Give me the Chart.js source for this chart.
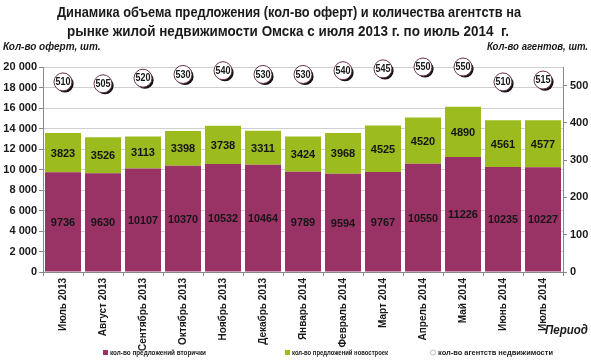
<!DOCTYPE html>
<html>
<head>
<meta charset="utf-8">
<script src="https://cdn.jsdelivr.net/npm/chart.js@4.4.1/dist/chart.umd.min.js"></script>
<style>
html,body{margin:0;padding:0;background:#fff;}
#wrap{width:591px;height:360px;position:relative;}
</style>
</head>
<body>
<div id="wrap"><canvas id="c" width="591" height="360"></canvas></div>
<script>
const categories = ['Июль 2013','Август 2013','Сентябрь 2013','Октябрь 2013','Ноябрь 2013','Декабрь 2013','Январь 2014','Февраль 2014','Март 2014','Апрель 2014','Май 2014','Июнь 2014','Июль 2014'];
const secondary = [9736,9630,10107,10370,10532,10464,9789,9594,9767,10550,11226,10235,10227];
const newBuild = [3823,3526,3113,3398,3738,3311,3424,3968,4525,4520,4890,4561,4577];
const agencies = [510,505,520,530,540,530,530,540,545,550,550,510,515];
const leftTicks = [0,2000,4000,6000,8000,10000,12000,14000,16000,18000,20000];
const rightTicks = [0,100,200,300,400,500];
const seriesNames = ['кол-во предложений вторички','кол-во предложений новостроек','кол-во агентств недвижимости'];
const titleLines = ['Динамика объема предложения (кол-во оферт) и количества агентств на','рынке жилой недвижимости Омска с июля 2013 г. по июль 2014  г.'];
const leftTitle = 'Кол-во оферт, шт.';
const rightTitle = 'Кол-во агентов, шт.';
const xTitle = 'Период';

const FONT = '"Liberation Sans", Arial, sans-serif';
const C_SEC = '#993366';
const C_NEW = '#9bbb1f';

function fmt(v){ return String(v).replace(/\B(?=(\d{3})+(?!\d))/g,' '); }

const shadowPlugin = {
  id:'shadow',
  beforeDatasetDraw(chart,args){
    if(args.index===2){
      const ctx=chart.ctx; ctx.save();
      ctx.fillStyle='#111';
      args.meta.data.forEach(el=>{
        ctx.beginPath(); ctx.arc(el.x+2,el.y+2,8.6,0,Math.PI*2); ctx.fill();
      });
      ctx.restore();
    }
  }
};

const labelsPlugin = {
  id:'labels',
  afterDatasetsDraw(chart){
    const ctx=chart.ctx;
    ctx.save();
    ctx.textAlign='center'; ctx.textBaseline='middle';
    ctx.fillStyle='#151515';
    ctx.font='bold 11px '+FONT;
    [0,1].forEach(di=>{
      const meta=chart.getDatasetMeta(di);
      meta.data.forEach((el,i)=>{
        const v=chart.data.datasets[di].data[i];
        const yc=(el.y+el.base)/2;
        ctx.fillText(String(v), el.x, yc+1, 30);
      });
    });
    ctx.font='bold 10px '+FONT;
    const m2=chart.getDatasetMeta(2);
    m2.data.forEach((el,i)=>{
      ctx.fillText(String(agencies[i]), el.x, el.y+0.5, 15);
    });
    ctx.restore();
  },
  afterDraw(chart){
    const ctx=chart.ctx;
    ctx.save();
    ctx.fillStyle='#1a1a1a';
    ctx.textBaseline='middle';
    ctx.textAlign='center';
    ctx.font='bold 15px '+FONT;
    ctx.fillText(titleLines[0], 289, 13, 464);
    ctx.fillText(titleLines[1], 288, 32, 442);
    ctx.font='italic bold 10px '+FONT;
    ctx.textAlign='left';
    ctx.fillText(leftTitle, 3, 47, 109);
    ctx.textAlign='right';
    ctx.fillText(rightTitle, 588, 47, 101);
    ctx.font='italic bold 12px '+FONT;
    ctx.fillText(xTitle, 588, 331, 43);
    // legend
    ctx.font='bold 8px '+FONT;
    ctx.textAlign='left';
    const ly=353;
    ctx.fillStyle=C_SEC; ctx.fillRect(103,ly-3,5,5);
    ctx.fillStyle='#1a1a1a'; ctx.fillText(seriesNames[0],110,ly,96);
    ctx.fillStyle=C_NEW; ctx.fillRect(285,ly-3,5,5);
    ctx.fillStyle='#1a1a1a'; ctx.fillText(seriesNames[1],292,ly,96);
    ctx.beginPath(); ctx.arc(433,ly-0.5,2.5,0,Math.PI*2);
    ctx.fillStyle='#fff'; ctx.fill(); ctx.strokeStyle='#c9a0b5'; ctx.lineWidth=0.8; ctx.stroke();
    ctx.fillStyle='#1a1a1a'; ctx.fillText(seriesNames[2],438,ly,115);
    ctx.restore();
  }
};

new Chart(document.getElementById('c'), {
  data:{
    labels:categories,
    datasets:[
      {type:'bar',label:seriesNames[0],data:secondary,backgroundColor:C_SEC,yAxisID:'y',stack:'s',order:2,barPercentage:0.9,categoryPercentage:1.0},
      {type:'bar',label:seriesNames[1],data:newBuild,backgroundColor:C_NEW,yAxisID:'y',stack:'s',order:2,barPercentage:0.9,categoryPercentage:1.0},
      {type:'line',label:seriesNames[2],data:agencies,yAxisID:'y1',showLine:false,order:1,clip:false,
       pointRadius:9,pointHoverRadius:9,pointBackgroundColor:'#ffffff',pointBorderColor:'#6a3050',pointBorderWidth:1}
    ]
  },
  options:{
    responsive:false,
    animation:false,
    devicePixelRatio:1,
    layout:{padding:{top:67,left:0,right:0,bottom:0}},
    plugins:{legend:{display:false},title:{display:false},tooltip:{enabled:false}},
    scales:{
      x:{
        stacked:true,
        offset:true,
        grid:{display:true,offset:true,drawOnChartArea:false,drawTicks:true,tickLength:4,color:'#888'},
        border:{display:true,color:'#888'},
        ticks:{autoSkip:false,maxRotation:90,minRotation:90,padding:2,color:'#1a1a1a',font:{family:FONT,size:10,weight:'bold'}},
        afterFit(s){ s.height=88; }
      },
      y:{
        stacked:true,
        position:'left',
        min:0,max:20000,
        afterBuildTicks(s){ s.ticks=leftTicks.map(v=>({value:v})); },
        grid:{color:'#cfcfcf',tickLength:4,tickColor:'#888'},
        border:{display:true,color:'#888'},
        ticks:{padding:2,color:'#1a1a1a',font:{family:FONT,size:11,weight:'bold'},callback:v=>fmt(v)},
        afterFit(s){ s.width=43; }
      },
      y1:{
        position:'right',
        min:0,max:550,
        afterBuildTicks(s){ s.ticks=rightTicks.map(v=>({value:v})); },
        grid:{drawOnChartArea:false,tickLength:4,color:'#888'},
        border:{display:true,color:'#888'},
        ticks:{padding:3,color:'#1a1a1a',font:{family:FONT,size:11,weight:'bold'}},
        afterFit(s){ s.width=28; }
      }
    }
  },
  plugins:[shadowPlugin,labelsPlugin]
});
</script>
</body>
</html>
